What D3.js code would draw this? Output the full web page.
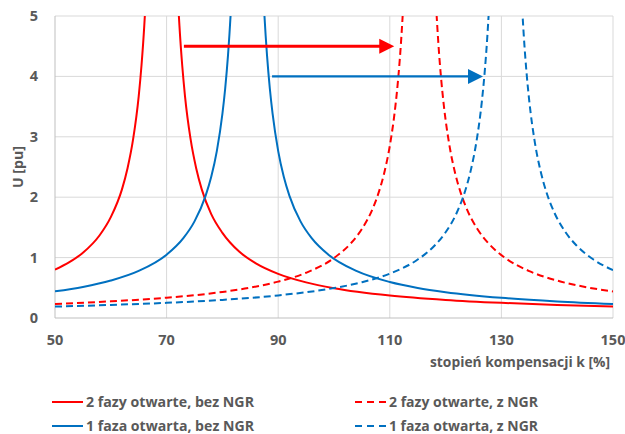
<!DOCTYPE html>
<html><head><meta charset="utf-8">
<script src="https://cdn.jsdelivr.net/npm/d3@7/dist/d3.min.js"></script>
<style>body{margin:0;background:#fff}svg text{font-family:"Open Sans",sans-serif;font-weight:700;fill:#595959}</style>
</head><body><svg id="c" width="625" height="434"></svg>
<script>
const xTicks = [50, 70, 90, 110, 130, 150];
const yTicks = [0, 1, 2, 3, 4, 5];
const xTitle = "stopień kompensacji k [%]";
const yTitle = "U [pu]";
const seriesNames = ["2 fazy otwarte, bez NGR", "2 fazy otwarte, z NGR", "1 faza otwarta, bez NGR", "1 faza otwarta, z NGR"];

// [k, U] points, each curve in two branches
const red2L = [[50,0.80],[52.5,0.92],[55,1.08],[58,1.37],[60,1.67],[62,2.13],[63,2.48],[64,2.96],[65,3.67],[65.5,4.18],[66,4.84],[66.5,5.75],[67,7.09]];
const red2R = [[71.3,7.09],[71.8,5.75],[72.3,4.84],[72.8,4.18],[73.3,3.67],[74.3,2.96],[75.3,2.48],[76.3,2.13],[78,1.72],[80,1.41],[83,1.10],[86,0.905],[90,0.731],[95,0.59],[100,0.494],[110,0.373],[120,0.30],[130,0.251],[140,0.215],[150,0.189]];
const red2NL = [[50,0.233],[60,0.276],[70,0.336],[80,0.431],[85,0.502],[90,0.602],[95,0.749],[100,0.993],[103,1.235],[105,1.473],[107,1.826],[108,2.075],[109,2.402],[110,2.85],[111,3.506],[111.5,3.961],[112,4.552],[112.5,5.351],[113,6.489]];
const red2NR = [[117.7,6.489],[118.2,5.351],[118.7,4.552],[119.2,3.961],[119.7,3.506],[120.7,2.85],[121.7,2.402],[122.7,2.075],[123.7,1.826],[125.7,1.473],[127.7,1.235],[130.7,0.993],[135,0.776],[140,0.619],[145,0.514],[150,0.44]];
const blue1L = [[50,0.441],[55,0.515],[60,0.62],[65,0.779],[70,1.048],[73,1.322],[75,1.60],[77,2.027],[78,2.338],[79,2.764],[80,3.378],[80.5,3.8],[81,4.343],[81.5,5.067],[82,6.08],[82.5,7.6]];
const blue1R = [[86.5,7.6],[87,6.08],[87.5,5.067],[88,4.343],[88.5,3.8],[89,3.378],[90,2.764],[91,2.338],[92,2.027],[94,1.60],[96,1.322],[99,1.048],[104,0.779],[110,0.596],[115,0.498],[120,0.428],[130,0.334],[140,0.274],[150,0.232]];
const blue1NL = [[50,0.189],[60,0.216],[70,0.251],[80,0.30],[90,0.374],[100,0.496],[105,0.592],[110,0.735],[115,0.968],[118,1.196],[120,1.419],[122,1.743],[123.5,2.103],[124.5,2.44],[125.5,2.905],[126.5,3.588],[127,4.067],[127.5,4.692],[128,5.545],[128.5,6.778]];
const blue1NR = [[133,6.778],[133.5,5.545],[134,4.692],[134.5,4.067],[135,3.588],[136,2.905],[137,2.44],[138,2.103],[139.5,1.743],[141.5,1.419],[143.5,1.196],[146.5,0.968],[150,0.792]];
// annotation arrows [k start, k end, U]
const arrowRed = [73.1, 110.8, 4.5];
const arrowBlue = [88.9, 126.7, 4.0];

const RED = "#FF0000", BLUE = "#0070C0";
const svg = d3.select("#c");
const L = 55, R = 613, T = 16, B = 318;
const x = d3.scaleLinear().domain([50, 150]).range([L, R]);
const y = d3.scaleLinear().domain([0, 5]).range([B, T]);

// grid
svg.append("g").selectAll("line").data(yTicks.filter(d => d > 0)).join("line")
  .attr("x1", L).attr("x2", R).attr("y1", d => y(d)).attr("y2", d => y(d))
  .attr("stroke", "#D9D9D9").attr("stroke-width", 1);
svg.append("g").selectAll("line").data(xTicks.filter(d => d > 50)).join("line")
  .attr("y1", T).attr("y2", B).attr("x1", d => x(d)).attr("x2", d => x(d))
  .attr("stroke", "#D9D9D9").attr("stroke-width", 1);
// axes lines
svg.append("line").attr("x1", L).attr("x2", L).attr("y1", T).attr("y2", B).attr("stroke", "#BFBFBF").attr("stroke-width", 1);
svg.append("line").attr("x1", L).attr("x2", R).attr("y1", B).attr("y2", B).attr("stroke", "#BFBFBF").attr("stroke-width", 1);

// tick labels
svg.append("g").selectAll("text").data(xTicks).join("text")
  .attr("x", d => x(d)).attr("y", 345).attr("text-anchor", "middle")
  .attr("font-size", 14.5).text(d => d);
svg.append("g").selectAll("text").data(yTicks).join("text")
  .attr("x", 38).attr("y", d => y(d) + 5).attr("text-anchor", "end")
  .attr("font-size", 14.5).text(d => d);

svg.append("text").attr("x", 430).attr("y", 367)
  .attr("font-size", 15).attr("textLength", 180).attr("lengthAdjust", "spacingAndGlyphs").text(xTitle);
svg.append("text").attr("transform", "translate(23,167) rotate(-90)").attr("text-anchor", "middle")
  .attr("font-size", 15).attr("textLength", 42).attr("lengthAdjust", "spacingAndGlyphs").text(yTitle);

// clip
svg.append("clipPath").attr("id", "clip").append("rect").attr("x", L).attr("y", T).attr("width", R - L).attr("height", B - T);
const line = d3.line().x(d => x(d[0])).y(d => y(d[1])).curve(d3.curveMonotoneX);
const g = svg.append("g").attr("clip-path", "url(#clip)");
const curves = [
  [red2L, RED, null], [red2R, RED, null],
  [blue1L, BLUE, null], [blue1R, BLUE, null],
  [red2NL, RED, "7,4"], [red2NR, RED, "7,4"],
  [blue1NL, BLUE, "7,4"], [blue1NR, BLUE, "7,4"]
];
curves.forEach(([d, c, dash]) => {
  g.append("path").datum(d).attr("d", line).attr("fill", "none")
    .attr("stroke", c).attr("stroke-width", 2).attr("stroke-dasharray", dash);
});

// arrows
function arrow(a, c, w) {
  const x0 = x(a[0]), x1 = x(a[1]), yy = y(a[2]);
  svg.append("line").attr("x1", x0).attr("x2", x1 - 12).attr("y1", yy).attr("y2", yy)
    .attr("stroke", c).attr("stroke-width", w);
  svg.append("path").attr("d", `M${x1},${yy} L${x1 - 15},${yy - 7.5} L${x1 - 15},${yy + 7.5} Z`).attr("fill", c);
}
arrow(arrowRed, RED, 3);
arrow(arrowBlue, BLUE, 2.25);

// legend
const leg = [
  {n: seriesNames[0], c: RED, dash: null, lx: 52, ly: 402, w: 168},
  {n: seriesNames[1], c: RED, dash: "7,5", lx: 355, ly: 402, w: 149},
  {n: seriesNames[2], c: BLUE, dash: null, lx: 52, ly: 426, w: 168},
  {n: seriesNames[3], c: BLUE, dash: "7,5", lx: 355, ly: 426, w: 149}
];
const lg = svg.append("g");
leg.forEach(o => {
  lg.append("line").attr("x1", o.lx).attr("x2", o.lx + 31).attr("y1", o.ly).attr("y2", o.ly)
    .attr("stroke", o.c).attr("stroke-width", 2).attr("stroke-dasharray", o.dash);
  lg.append("text").attr("x", o.lx + 34).attr("y", o.ly + 5).attr("font-size", 15)
    .attr("textLength", o.w).attr("lengthAdjust", "spacingAndGlyphs").text(o.n);
});
</script></body></html>
